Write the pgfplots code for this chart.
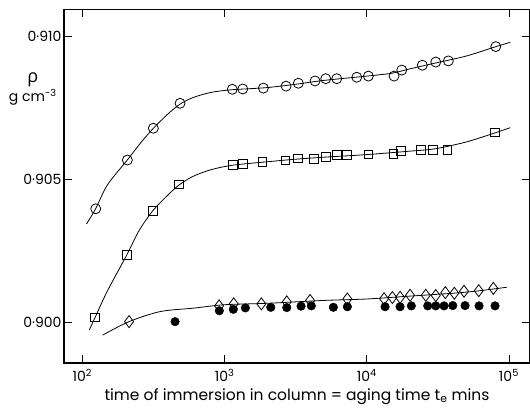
\documentclass[border=0pt]{standalone}
\usepackage{pgfplots}
\pgfplotsset{compat=1.18}
\usepackage{fontspec}
\setmainfont{Poppins}
\newfontfamily\grk{Open Sans}
\begin{document}
\begin{tikzpicture}
\begin{axis}[
  scale only axis,
  width=466pt, height=353.5pt,
  xmode=log,
  xmin=74.3, xmax=140600,
  ymin=0.898586, ymax=0.910925,
  xtick={100,1000,10000,100000},
  xticklabels={10\textsuperscript{2},10\textsuperscript{3},10\textsuperscript{4},10\textsuperscript{5}},
  ytick={0.900,0.905,0.910},
  yticklabels={0·900,0·905,0·910},
  xminorticks=false, yminorticks=false,
  tick align=inside,
  major tick length=8pt,
  tick style={black, line width=0.8pt},
  axis line style={black, line width=1.1pt},
  tick label style={font=\fontsize{14}{15}\selectfont},
  yticklabel style={xshift=1pt},
  xticklabel style={yshift=-3pt},
  xlabel={time of immersion in column = aging time t\textsubscript{e} mins},
  xlabel style={font=\fontsize{15.5}{17}\selectfont, yshift=0pt},
  clip=false,
]
% fitted curves
\addplot[black, line width=0.8pt, smooth, no marks] coordinates {
 (107,0.90344) (124,0.90397) (150,0.90480) (207,0.90567) (260,0.90630) (316,0.90678)
 (400,0.90728) (486,0.90762) (600,0.90785) (800,0.90803) (1100,0.90812) (1500,0.90816)
 (2000,0.90820) (3000,0.90830) (5000,0.90845) (10000,0.90860) (15000,0.90870)
 (20000,0.90885) (30000,0.90905) (50000,0.90930) (80000,0.90962) (102000,0.90978)};
\addplot[black, line width=0.8pt, smooth, no marks] coordinates {
 (112,0.89974) (123,0.90018) (150,0.90110) (205,0.90235) (250,0.90320) (313,0.90390)
 (400,0.90445) (479,0.90480) (600,0.90510) (800,0.90533) (1140,0.90549) (2000,0.90561)
 (3000,0.90569) (5000,0.90577) (10000,0.90586) (20000,0.90598) (30000,0.90606)
 (50000,0.90630) (80000,0.90662) (102000,0.90680)};
\addplot[black, line width=0.8pt, smooth, no marks] coordinates {
 (139,0.89956) (213,0.90003) (352,0.90038) (603,0.90050) (1000,0.90062) (2000,0.90067)
 (5000,0.90077) (10000,0.90082) (20000,0.90092) (40000,0.90102) (60000,0.90110) (96500,0.90123)};
% open circles
\addplot[only marks, mark=o, mark size=5pt, mark options={fill=white, line width=0.8pt}] coordinates {
 (124.2,0.90397) (207.3,0.90567) (315.7,0.90678) (486.5,0.90765) (1134,0.90814) (1343,0.90815)
 (1875,0.90818) (2707,0.90825) (3304,0.90835) (4329,0.90843) (5148,0.90851) (6152,0.90851)
 (8505,0.90856) (10263,0.90860) (15560,0.90860) (17630,0.90881) (24600,0.90898)
 (30560,0.90909) (37480,0.90913) (80760,0.90963)};
% open squares
\addplot[only marks, mark=square, mark size=4.3pt, mark options={fill=white, line width=0.8pt}] coordinates {
 (122.8,0.90018) (205.2,0.90235) (312.6,0.90390) (478.6,0.90482) (1142,0.90551) (1343,0.90554)
 (1845,0.90560) (2676,0.90566) (3272,0.90573) (4260,0.90572) (5148,0.90579) (6152,0.90584)
 (7234,0.90584) (10263,0.90587) (15385,0.90589) (17430,0.90599) (24090,0.90602)
 (29120,0.90603) (36870,0.90603) (79830,0.90664)};
% filled circles
\addplot[only marks, mark=*, mark size=4.3pt, mark options={fill=black, draw=black}] coordinates {
 (448.6,0.90003) (919,0.90041) (1153,0.90046) (1401,0.90051) (2113,0.90053) (2738,0.90052)
 (3451,0.90057) (4074,0.90058) (5823,0.90053) (7305,0.90055) (13450,0.90055) (17150,0.90055)
 (20590,0.90058) (26850,0.90058) (30560,0.90058) (34960,0.90058) (40250,0.90059)
 (49120,0.90059) (61640,0.90058) (79830,0.90058)};
% open diamonds
\addplot[only marks, mark=diamond, mark size=6pt, mark options={fill=white, line width=0.8pt}] coordinates {
 (213,0.90003) (914.8,0.90058) (1160,0.90065) (1815,0.90065) (2738,0.90072) (3994,0.90077)
 (7305,0.90082) (13240,0.90083) (15140,0.90087) (17150,0.90088) (20160,0.90095)
 (25990,0.90095) (30560,0.90094) (35700,0.90104) (41300,0.90102) (48330,0.90109)
 (61330,0.90111) (77700,0.90119)};
\node[align=center, font=\fontsize{14}{14}\selectfont, inner sep=0pt] at (axis description cs:-0.067,0.775)
  {{\grk\fontsize{18}{18}\selectfont ρ}\\[1pt] g cm\textsuperscript{-3}};
\end{axis}
\pgfresetboundingbox
\path (-64pt,-54pt) rectangle (466pt,363pt);
\end{tikzpicture}
\end{document}
